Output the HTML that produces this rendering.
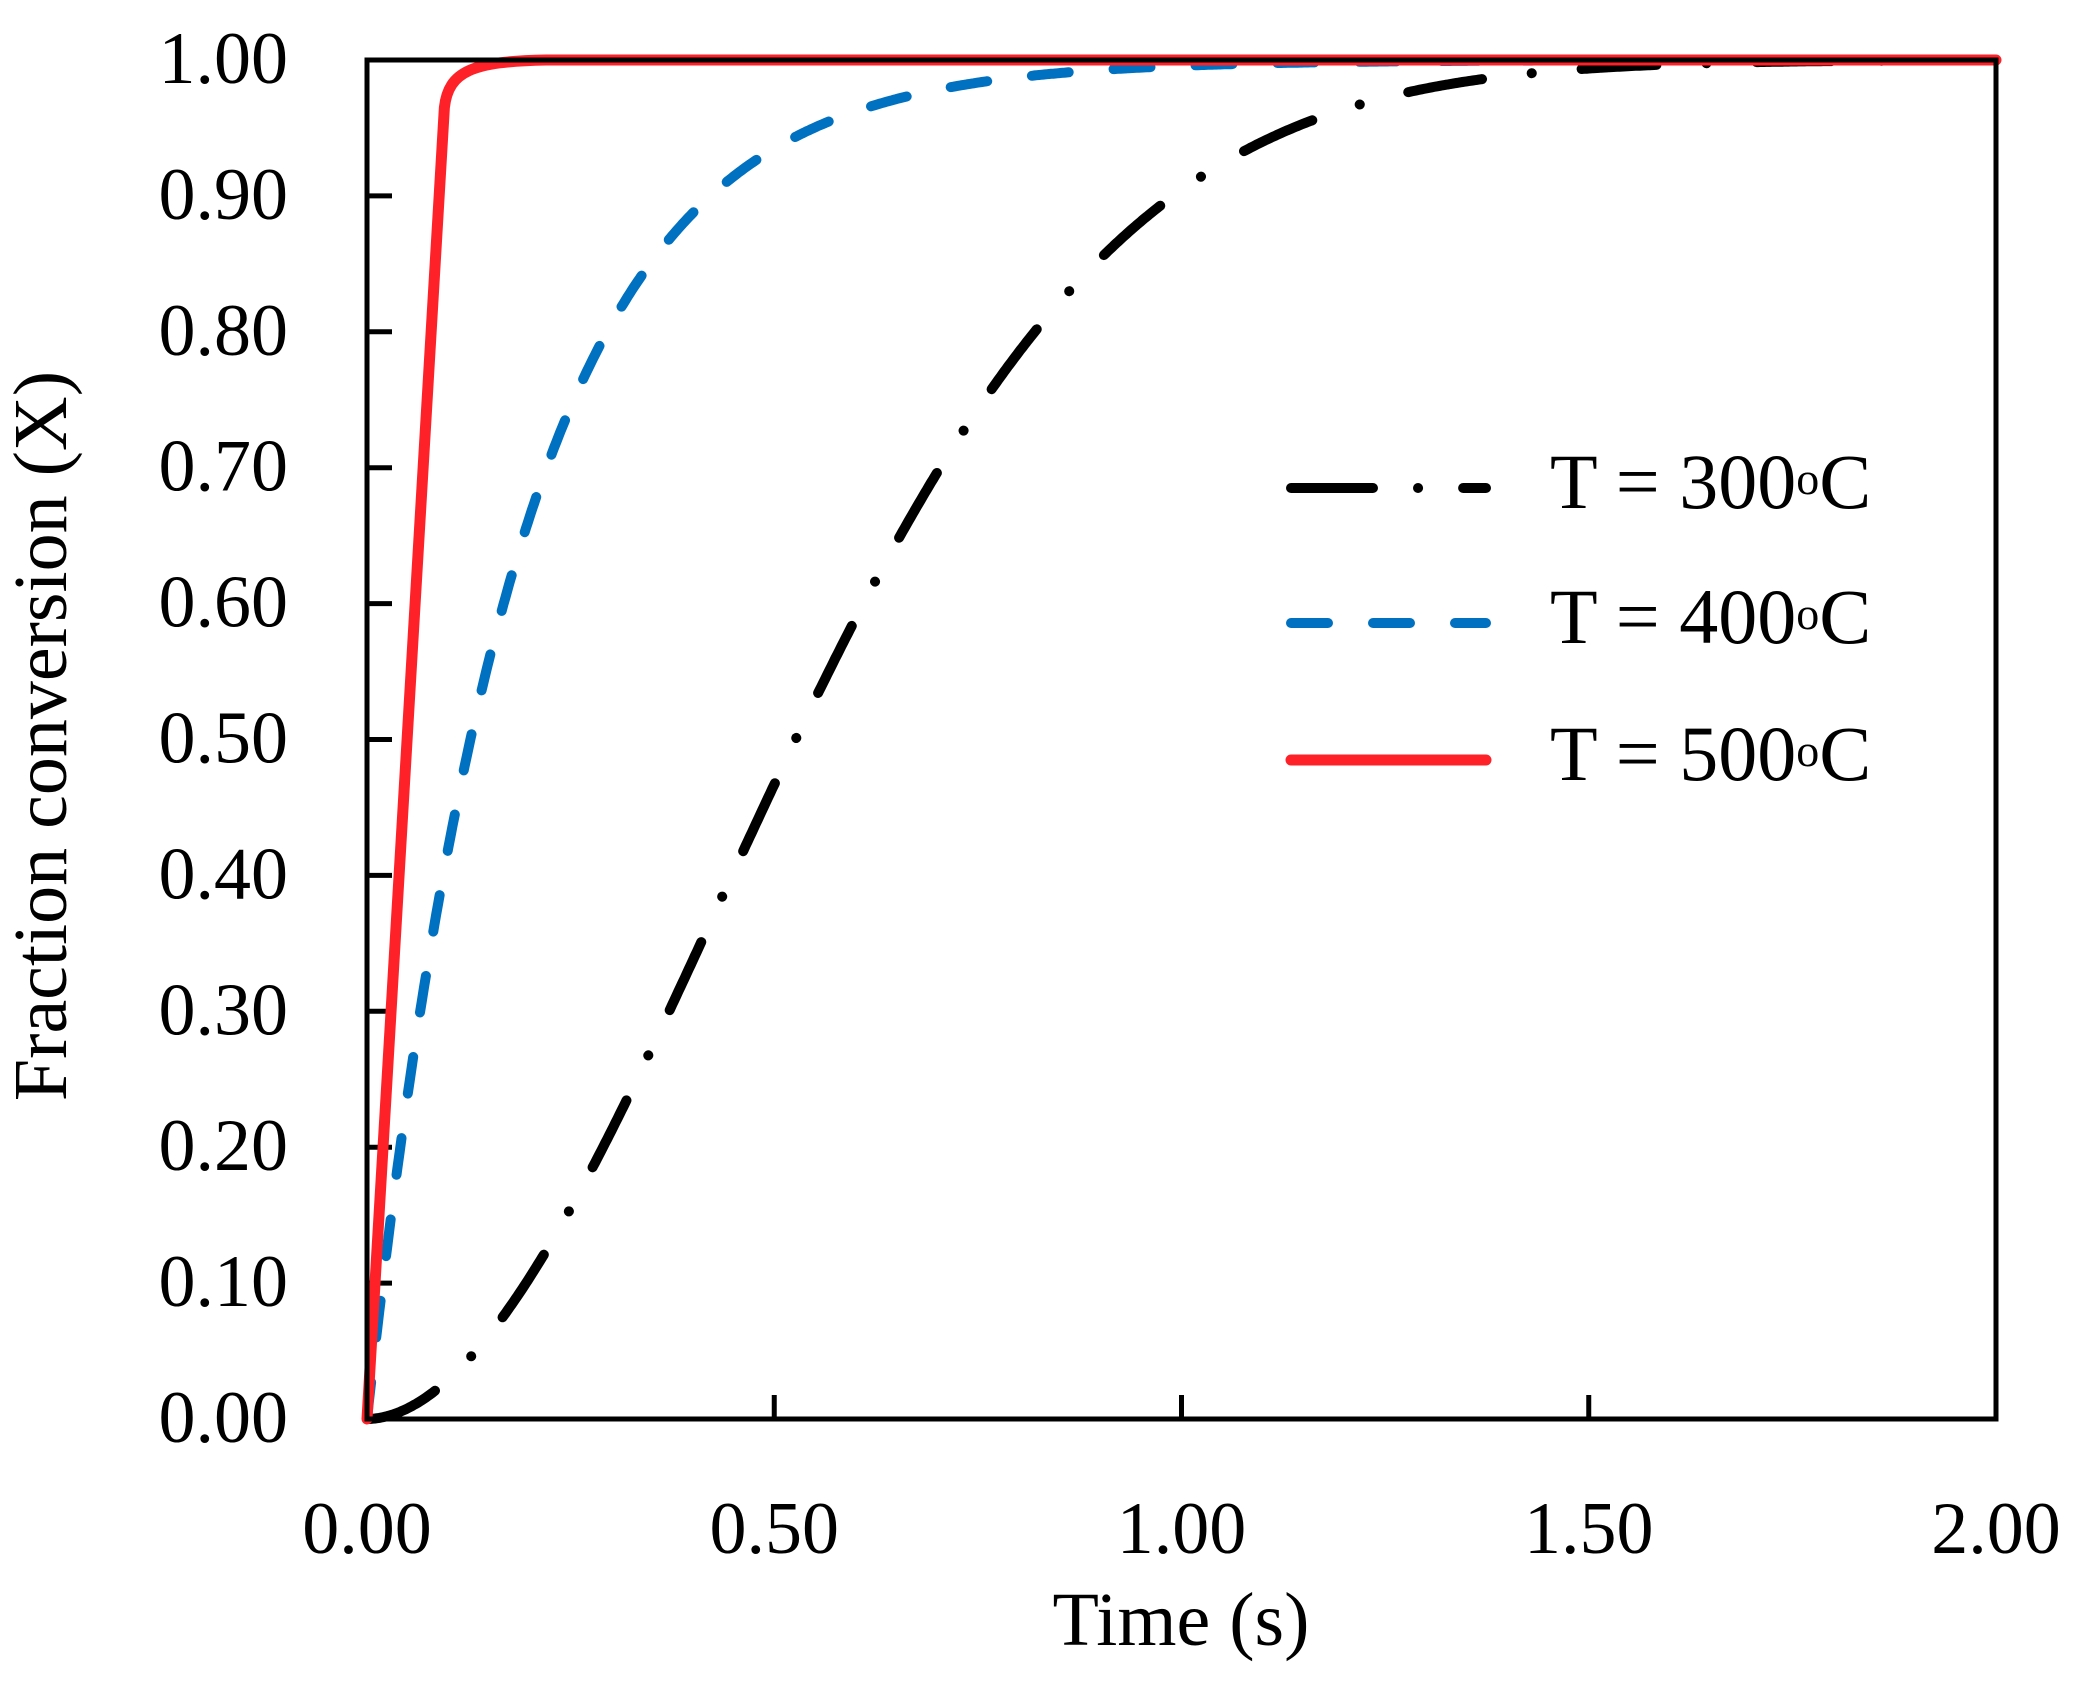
<!DOCTYPE html>
<html><head><meta charset="utf-8"><style>
html,body{margin:0;padding:0;background:#fff;}
svg{display:block;}
text{font-family:"Liberation Serif",serif;fill:#000;}
</style></head><body>
<svg id="s" width="2079" height="1682" viewBox="0 0 2079 1682" xmlns="http://www.w3.org/2000/svg">
<rect width="2079" height="1682" fill="#fff"/>
<g id="ticks" stroke="#000" stroke-width="5"></g>
<g font-size="74" text-anchor="end" id="ylab"></g>
<g font-size="74" text-anchor="middle" id="xlab"></g>
<text x="1181" y="1645" font-size="76" text-anchor="middle">Time (s)</text>
<text transform="translate(66,736) rotate(-90)" font-size="76" text-anchor="middle">Fraction conversion (X)</text>
<path id="black" fill="none" stroke="#000" stroke-width="10" stroke-linecap="round" stroke-dasharray="75 50 0.1 50"/>
<path id="blue" fill="none" stroke="#0070c0" stroke-width="10" stroke-linecap="round" stroke-dasharray="37 45"/>
<path id="red" fill="none" stroke="#ff2128" stroke-width="11" stroke-linejoin="round" stroke-linecap="round"/>
<rect x="367" y="60" width="1629" height="1359" fill="none" stroke="#000" stroke-width="5"/>
<line x1="1291" y1="488" x2="1486" y2="488" stroke="#000" stroke-width="10" stroke-linecap="round" stroke-dasharray="82 45 0.1 45"/>
<line x1="1291" y1="623" x2="1486" y2="623" stroke="#0070c0" stroke-width="10" stroke-linecap="round" stroke-dasharray="37 45"/>
<line x1="1291" y1="760" x2="1486" y2="760" stroke="#ff2128" stroke-width="11" stroke-linecap="round"/>
<g font-size="78">
<text x="1550" y="508">T = 300<tspan font-size="46" dy="-14">o</tspan><tspan dy="14">C</tspan></text>
<text x="1550" y="643">T = 400<tspan font-size="46" dy="-14">o</tspan><tspan dy="14">C</tspan></text>
<text x="1550" y="780">T = 500<tspan font-size="46" dy="-14">o</tspan><tspan dy="14">C</tspan></text>
</g>
</svg>
<script>
var NS="http://www.w3.org/2000/svg";
function px(t){return 367+t*814.5;}
function py(x){return 1419-x*1359;}
var tk=document.getElementById("ticks"),yl=document.getElementById("ylab"),xl=document.getElementById("xlab");
for(var i=0;i<=10;i++){
  var y=py(i/10);
  var l=document.createElementNS(NS,"line");
  l.setAttribute("x1",367);l.setAttribute("x2",392);l.setAttribute("y1",y);l.setAttribute("y2",y);tk.appendChild(l);
  var t=document.createElementNS(NS,"text");t.setAttribute("x",288);t.setAttribute("y",y+23);
  t.textContent=(i/10).toFixed(2);yl.appendChild(t);
}
for(var j=0;j<=4;j++){
  var x=px(j*0.5);
  var l2=document.createElementNS(NS,"line");
  l2.setAttribute("x1",x);l2.setAttribute("x2",x);l2.setAttribute("y1",1419);l2.setAttribute("y2",1395);tk.appendChild(l2);
  var t2=document.createElementNS(NS,"text");t2.setAttribute("x",x);t2.setAttribute("y",1553);
  t2.textContent=(j*0.5).toFixed(2);xl.appendChild(t2);
}
function path(f){var d="";for(var k=0;k<=800;k++){var t=k/400;d+=(k?"L":"M")+px(t).toFixed(1)+" "+py(f(t)).toFixed(1);}return d;}
document.getElementById("black").setAttribute("d",path(function(t){return 1-Math.exp(-Math.pow(1.567*t,1.9));}));
document.getElementById("blue").setAttribute("d",path(function(t){return 1-Math.exp(-5.46*t);}));
document.getElementById("red").setAttribute("d","M"+px(0)+" "+py(0)+"L"+px(0.095)+" "+py(0.965)+"C"+px(0.1)+" "+py(0.992)+" "+px(0.13)+" "+py(0.999)+" "+px(0.22)+" "+py(1)+"L"+px(2)+" "+py(1));
</script>
</body></html>
